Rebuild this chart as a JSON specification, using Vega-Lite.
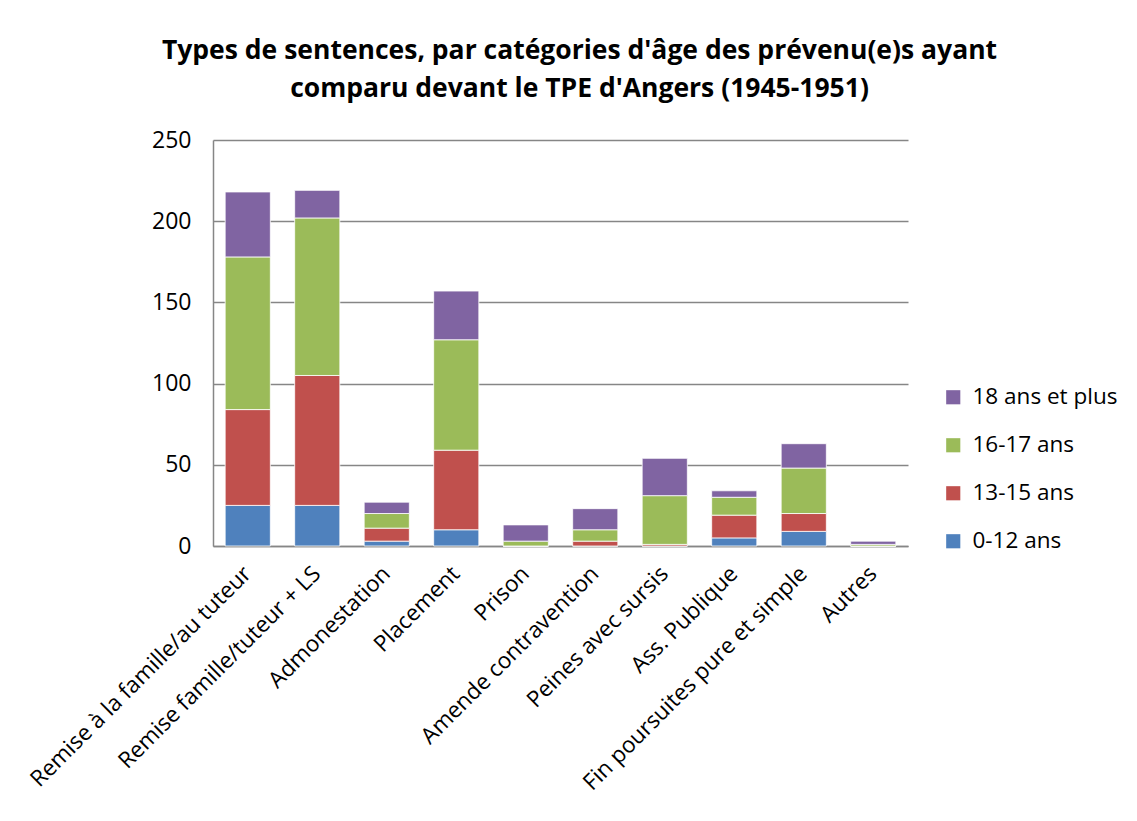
{
  "$schema": "https://vega.github.io/schema/vega-lite/v6.json",
  "autosize": {"type": "none"},
  "width": 695,
  "height": 406,
  "padding": {"left": 213, "top": 140, "right": 229, "bottom": 275},
  "background": "white",
  "title": {
    "text": ["Types de sentences, par catégories d'âge des prévenu(e)s ayant", "comparu devant le TPE d'Angers (1945-1951)"],
    "font": "Open Sans",
    "fontSize": 26.5,
    "fontWeight": "bold",
    "color": "#000000",
    "anchor": "middle",
    "frame": "group",
    "dx": 19,
    "offset": 27,
    "lineHeight": 38
  },
  "data": {
    "values": [
      {"cat": "Remise à la famille/au tuteur", "age": "0-12 ans", "k": 1, "n": 25},
      {"cat": "Remise à la famille/au tuteur", "age": "13-15 ans", "k": 2, "n": 59},
      {"cat": "Remise à la famille/au tuteur", "age": "16-17 ans", "k": 3, "n": 94},
      {"cat": "Remise à la famille/au tuteur", "age": "18 ans et plus", "k": 4, "n": 40},
      {"cat": "Remise famille/tuteur + LS", "age": "0-12 ans", "k": 1, "n": 25},
      {"cat": "Remise famille/tuteur + LS", "age": "13-15 ans", "k": 2, "n": 80},
      {"cat": "Remise famille/tuteur + LS", "age": "16-17 ans", "k": 3, "n": 97},
      {"cat": "Remise famille/tuteur + LS", "age": "18 ans et plus", "k": 4, "n": 17},
      {"cat": "Admonestation", "age": "0-12 ans", "k": 1, "n": 3},
      {"cat": "Admonestation", "age": "13-15 ans", "k": 2, "n": 8},
      {"cat": "Admonestation", "age": "16-17 ans", "k": 3, "n": 9},
      {"cat": "Admonestation", "age": "18 ans et plus", "k": 4, "n": 7},
      {"cat": "Placement", "age": "0-12 ans", "k": 1, "n": 10},
      {"cat": "Placement", "age": "13-15 ans", "k": 2, "n": 49},
      {"cat": "Placement", "age": "16-17 ans", "k": 3, "n": 68},
      {"cat": "Placement", "age": "18 ans et plus", "k": 4, "n": 30},
      {"cat": "Prison", "age": "0-12 ans", "k": 1, "n": 0},
      {"cat": "Prison", "age": "13-15 ans", "k": 2, "n": 0},
      {"cat": "Prison", "age": "16-17 ans", "k": 3, "n": 3},
      {"cat": "Prison", "age": "18 ans et plus", "k": 4, "n": 10},
      {"cat": "Amende contravention", "age": "0-12 ans", "k": 1, "n": 0},
      {"cat": "Amende contravention", "age": "13-15 ans", "k": 2, "n": 3},
      {"cat": "Amende contravention", "age": "16-17 ans", "k": 3, "n": 7},
      {"cat": "Amende contravention", "age": "18 ans et plus", "k": 4, "n": 13},
      {"cat": "Peines avec sursis", "age": "0-12 ans", "k": 1, "n": 0},
      {"cat": "Peines avec sursis", "age": "13-15 ans", "k": 2, "n": 1},
      {"cat": "Peines avec sursis", "age": "16-17 ans", "k": 3, "n": 30},
      {"cat": "Peines avec sursis", "age": "18 ans et plus", "k": 4, "n": 23},
      {"cat": "Ass. Publique", "age": "0-12 ans", "k": 1, "n": 5},
      {"cat": "Ass. Publique", "age": "13-15 ans", "k": 2, "n": 14},
      {"cat": "Ass. Publique", "age": "16-17 ans", "k": 3, "n": 11},
      {"cat": "Ass. Publique", "age": "18 ans et plus", "k": 4, "n": 4},
      {"cat": "Fin poursuites pure et simple", "age": "0-12 ans", "k": 1, "n": 9},
      {"cat": "Fin poursuites pure et simple", "age": "13-15 ans", "k": 2, "n": 11},
      {"cat": "Fin poursuites pure et simple", "age": "16-17 ans", "k": 3, "n": 28},
      {"cat": "Fin poursuites pure et simple", "age": "18 ans et plus", "k": 4, "n": 15},
      {"cat": "Autres", "age": "0-12 ans", "k": 1, "n": 0},
      {"cat": "Autres", "age": "13-15 ans", "k": 2, "n": 0},
      {"cat": "Autres", "age": "16-17 ans", "k": 3, "n": 1},
      {"cat": "Autres", "age": "18 ans et plus", "k": 4, "n": 2}
    ]
  },
  "mark": {"type": "bar", "stroke": "white", "strokeWidth": 0.8},
  "encoding": {
    "x": {
      "field": "cat",
      "type": "nominal",
      "sort": null,
      "scale": {"paddingInner": 0.35, "paddingOuter": 0.175},
      "axis": {
        "title": null,
        "labelAngle": -45,
        "labelFont": "Open Sans",
        "labelFontSize": 22.5,
        "labelColor": "#000000",
        "labelPadding": 16,
        "labelOffset": -8,
        "ticks": false,
        "domainColor": "#868686",
        "domainWidth": 1.5,
        "labelLimit": 450
      }
    },
    "y": {
      "field": "n",
      "type": "quantitative",
      "stack": "zero",
      "scale": {"domain": [0, 250], "nice": false},
      "axis": {
        "title": null,
        "values": [0, 50, 100, 150, 200, 250],
        "labelFont": "Open Sans",
        "labelFontSize": 23,
        "labelColor": "#000000",
        "labelPadding": 22,
        "ticks": false,
        "domainColor": "#868686",
        "domainWidth": 1.5,
        "gridColor": "#868686",
        "gridWidth": 1.5
      }
    },
    "color": {
      "field": "age",
      "type": "nominal",
      "scale": {
        "domain": ["18 ans et plus", "16-17 ans", "13-15 ans", "0-12 ans"],
        "range": ["#8064A2", "#9BBB59", "#C0504D", "#4F81BD"]
      },
      "legend": {
        "title": null,
        "orient": "none",
        "legendX": 729,
        "legendY": 246,
        "symbolType": "square",
        "symbolSize": 200,
        "symbolStrokeWidth": 0,
        "labelFont": "Open Sans",
        "labelFontSize": 22.5,
        "labelColor": "#000000",
        "labelOffset": 8,
        "rowPadding": 25
      }
    },
    "order": {"field": "k", "type": "quantitative", "sort": "ascending"}
  },
  "config": {
    "view": {"stroke": null}
  }
}
